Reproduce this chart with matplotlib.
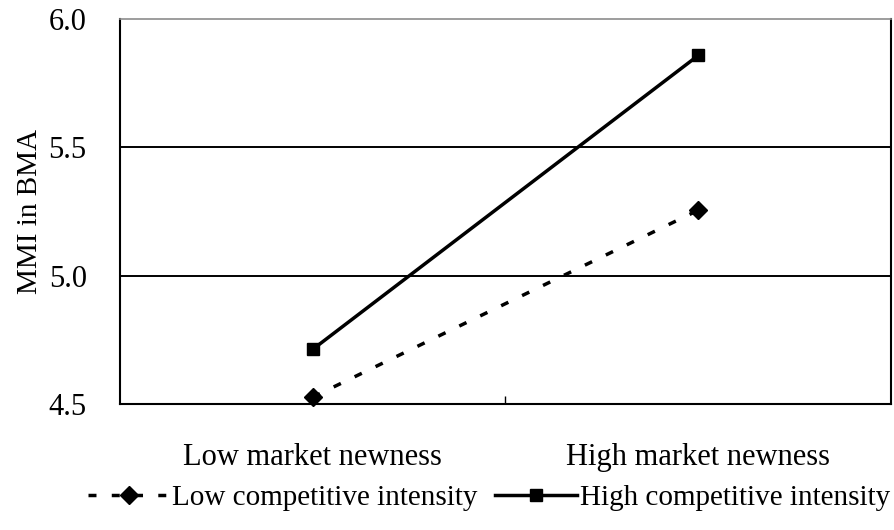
import matplotlib
matplotlib.use('Agg')
import matplotlib.pyplot as plt

categories = ['Low market newness', 'High market newness']
low_ci = [4.527, 5.255]
high_ci = [4.713, 5.858]
series_names = ['Low competitive intensity', 'High competitive intensity']
y_ticks = [4.5, 5.0, 5.5, 6.0]

plt.rcParams['font.family'] = ['Liberation Serif', 'DejaVu Serif']

fig = plt.figure(figsize=(8.95, 5.3), dpi=100)
ax = fig.add_axes([120 / 895, 1 - 404 / 530, 771 / 895, 385 / 530])

xpos = [0.5, 1.5]
ax.plot(xpos, low_ci, color='k', lw=2.5, ls=(0, (2.3, 4.4)), marker='D', ms=9,
        label=series_names[0], clip_on=False, zorder=3)
ax.plot(xpos, high_ci, color='k', lw=2.5, ls='-', marker='s', ms=8.5,
        label=series_names[1], zorder=3)

for y in [5.0, 5.5]:
    ax.axhline(y, color='k', lw=1.4, zorder=0)

ax.set_xlim(0, 2)
ax.set_ylim(4.5, 6.0)
ax.set_yticks(y_ticks)
ax.set_yticklabels(['%.1f' % v for v in y_ticks], fontsize=22)
ax.tick_params(axis='y', length=0, pad=24)

ax.set_xticks([1])
ax.set_xticklabels([''])
ax.tick_params(axis='x', which='major', direction='in', length=6, width=1, color='k')
ax.set_xticks(xpos, minor=True)
ax.set_xticklabels(categories, minor=True, fontsize=22)
ax.tick_params(axis='x', which='minor', length=0, pad=28)

ax.set_ylabel('MMI in BMA', fontsize=21, labelpad=4)

ax.spines['top'].set_color('0.55')
ax.spines['top'].set_linewidth(1.2)
for s in ['left', 'bottom', 'right']:
    ax.spines[s].set_color('k')
    ax.spines[s].set_linewidth(1.5)

fig.legend(loc='center', bbox_to_anchor=(489 / 895, 1 - 498 / 530), ncol=2,
           frameon=False, fontsize=21, handlelength=2.8, columnspacing=0.6,
           handletextpad=0.1, borderpad=0)

fig.savefig('out.png', dpi=100)
